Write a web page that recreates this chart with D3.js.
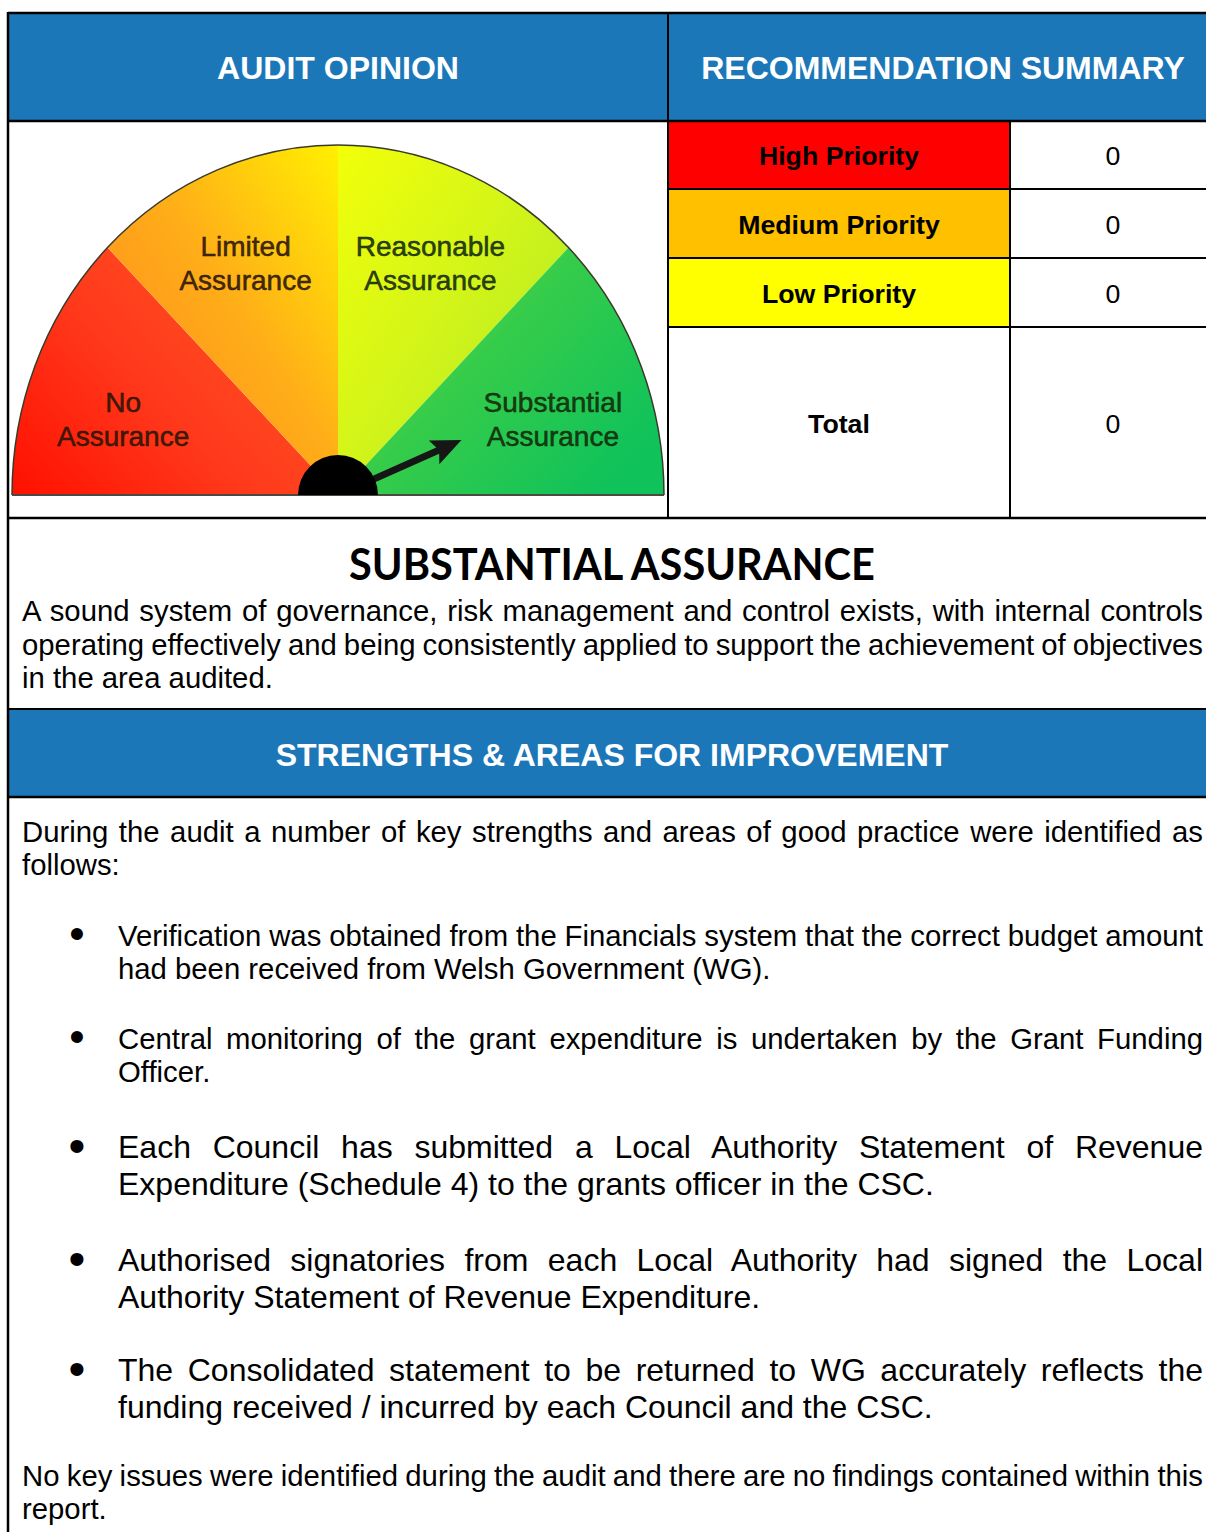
<!DOCTYPE html>
<html lang="en">
<head>
<meta charset="UTF-8">
<title>Audit Opinion</title>
<style>
  body { margin: 0; background: #fff; }
  svg { display: block; }
</style>
</head>
<body>
<script src="https://d3js.org/d3.v7.min.js"></script>
<script>
// ---- data ----
const headerTitles = ["AUDIT OPINION", "RECOMMENDATION SUMMARY"];
const priorityLabels = ["High Priority", "Medium Priority", "Low Priority", "Total"];
const priorityCounts = [0, 0, 0, 0];
const assuranceLevels = ["No Assurance", "Limited Assurance", "Reasonable Assurance", "Substantial Assurance"];
const auditOpinion = "Substantial Assurance";
const opinionLines = [
  "A sound system of governance, risk management and control exists, with internal controls",
  "operating effectively and being consistently applied to support the achievement of objectives",
  "in the area audited."
];
const sectionTitle = "STRENGTHS & AREAS FOR IMPROVEMENT";
const introLines = [
  "During the audit a number of key strengths and areas of good practice were identified as",
  "follows:"
];
const bulletItems = [
  ["Verification was obtained from the Financials system that the correct budget amount",
   "had been received from Welsh Government (WG)."],
  ["Central monitoring of the grant expenditure is undertaken by the Grant Funding",
   "Officer."],
  ["Each Council has submitted a Local Authority Statement of Revenue",
   "Expenditure (Schedule 4) to the grants officer in the CSC."],
  ["Authorised signatories from each Local Authority had signed the Local",
   "Authority Statement of Revenue Expenditure."],
  ["The Consolidated statement to be returned to WG accurately reflects the",
   "funding received / incurred by each Council and the CSC."]
];
const closingLines = [
  "No key issues were identified during the audit and there are no findings contained within this",
  "report."
];

// ---- layout & style ----
const W = 1206, H = 1532;
const sans = "Arial, 'Liberation Sans', sans-serif";
const blue = "#1c77b9";
const priorityFills = ["#ff0000", "#ffc000", "#ffff00", "#ffffff"];
const rowEdges = [121, 189, 258, 327, 518];
const lay = {
  left: 8, top: 13, colX: 668, valX: 1010, right: 1206,
  headBottom: 121, tableBottom: 518, band2Top: 709, band2Bottom: 797,
  textLeft: 22, textRight: 1203, bulletX: 77, bulletText: 118
};
const bodySize = 29.3, bigSize = 32;
const bulletSizes = [bodySize, bodySize, bigSize, bigSize, bigSize];
const bulletStarts = [945.5, 1048.5, 1157.5, 1270.5, 1380.5];

const svg = d3.select("body").append("svg")
    .attr("width", W)
    .attr("height", H)
    .style("font-family", sans);

const defs = svg.append("defs");

// blue header bands
svg.append("rect").attr("x", lay.left).attr("y", lay.top)
    .attr("width", W - lay.left).attr("height", lay.headBottom - lay.top).attr("fill", blue);
svg.append("rect").attr("x", lay.left).attr("y", lay.band2Top)
    .attr("width", W - lay.left).attr("height", lay.band2Bottom - lay.band2Top).attr("fill", blue);

svg.selectAll(".head")
    .data(headerTitles)
    .enter().append("text")
    .attr("class", "head")
    .attr("x", (d, i) => i === 0 ? (lay.left + lay.colX) / 2 : 943)
    .attr("y", 79)
    .attr("text-anchor", "middle")
    .attr("font-size", 32).attr("font-weight", "bold").attr("fill", "#fff")
    .text(d => d);

// ---- recommendation table ----
const rows = svg.selectAll(".row")
    .data(priorityLabels)
    .enter().append("g")
    .attr("class", "row");

rows.append("rect")
    .attr("x", lay.colX)
    .attr("y", (d, i) => rowEdges[i])
    .attr("width", lay.valX - lay.colX)
    .attr("height", (d, i) => rowEdges[i + 1] - rowEdges[i])
    .attr("fill", (d, i) => priorityFills[i]);

rows.append("text")
    .attr("x", (lay.colX + lay.valX) / 2)
    .attr("y", (d, i) => (rowEdges[i] + rowEdges[i + 1]) / 2 + 10)
    .attr("text-anchor", "middle")
    .attr("font-size", 26.7).attr("font-weight", "bold").attr("fill", "#000")
    .text(d => d);

rows.append("text")
    .attr("x", 1113)
    .attr("y", (d, i) => (rowEdges[i] + rowEdges[i + 1]) / 2 + 10)
    .attr("text-anchor", "middle")
    .attr("font-size", 26.7).attr("fill", "#000")
    .text((d, i) => priorityCounts[i]);

// ---- gauge ----
const cx = 338, cy = 495, rx = 326, ry = 350;
const angle = d3.scaleBand().domain(assuranceLevels).range([-90, 90]);
const labelAngle = d3.scaleBand().domain(assuranceLevels).range([-97, 97]);
const rad = d => d * Math.PI / 180;

const gradSpecs = [
  { x1: 0, y1: 1, x2: 1, y2: 0.3, stops: ["#ff1000", "#ff3a1c", "#ff5424"] },
  { x1: 0.1, y1: 0.9, x2: 1, y2: 0, stops: ["#ff8a20", "#ffae18", "#fff000"] },
  { x1: 0, y1: 0, x2: 1, y2: 1, stops: ["#f2ff08", "#d0f41a", "#a8e42a"] },
  { x1: 0, y1: 0, x2: 1, y2: 0.7, stops: ["#66da44", "#36cc4a", "#10c25a"] }
];
gradSpecs.forEach((g, i) => {
  const lg = defs.append("linearGradient").attr("id", "band" + i)
      .attr("x1", g.x1).attr("y1", g.y1).attr("x2", g.x2).attr("y2", g.y2);
  g.stops.forEach((c, j) => lg.append("stop")
      .attr("offset", j / (g.stops.length - 1)).attr("stop-color", c));
});

const arc = d3.arc().innerRadius(0).outerRadius(1);
const gauge = svg.append("g").attr("transform", `translate(${cx},${cy}) scale(${rx},${ry})`);

gauge.selectAll(".sector")
    .data(assuranceLevels)
    .enter().append("path")
    .attr("class", "sector")
    .attr("d", d => arc({ startAngle: rad(angle(d)), endAngle: rad(angle(d) + angle.bandwidth()) }))
    .attr("fill", (d, i) => `url(#band${i})`);

gauge.append("path")
    .attr("d", d3.arc().innerRadius(1).outerRadius(1)({ startAngle: rad(-90), endAngle: rad(90) }))
    .attr("fill", "none").attr("stroke", "#3a3a2a").attr("stroke-width", 1.5)
    .attr("vector-effect", "non-scaling-stroke");

svg.append("line")
    .attr("x1", cx - rx).attr("x2", cx + rx).attr("y1", cy).attr("y2", cy)
    .attr("stroke", "#4a4a40").attr("stroke-width", 2);

// labels sit on an inner ellipse at the middle of each band
const lrx = 225, lry = 255;
const labels = svg.selectAll(".glabel")
    .data(assuranceLevels)
    .enter().append("text")
    .attr("class", "glabel")
    .attr("text-anchor", "middle")
    .attr("font-size", 28)
    .attr("fill", (d, i) => i < 2 ? "#2a1606" : "#142a0a")
    .attr("stroke", (d, i) => i < 2 ? "#2a1606" : "#142a0a")
    .attr("stroke-width", 0.5)
    .attr("fill-opacity", 0.9);

labels.each(function(d) {
  const a = rad(labelAngle(d) + labelAngle.bandwidth() / 2);
  const x = cx + lrx * Math.sin(a);
  const y = cy - lry * Math.cos(a);
  const words = [d.slice(0, d.lastIndexOf(" ")), d.slice(d.lastIndexOf(" ") + 1)];
  d3.select(this).selectAll("tspan")
      .data(words)
      .enter().append("tspan")
      .attr("x", x)
      .attr("y", (w, j) => y - 17 + j * 34 + 10)
      .text(w => w);
});

// needle
const needleA = rad(angle(auditOpinion) + angle.bandwidth() / 2);
const tip = [cx + rx * 0.41 * Math.sin(needleA), cy - ry * 0.41 * Math.cos(needleA)];
const len = Math.hypot(tip[0] - cx, tip[1] - cy);
const rot = Math.atan2(tip[1] - cy, tip[0] - cx) * 180 / Math.PI;
const needle = svg.append("g").attr("transform", `translate(${cx},${cy}) rotate(${rot})`);
needle.append("path")
    .attr("d", `M20,-3.5 L${len - 26},-3.5 L${len - 30},-13 L${len},0 L${len - 30},13 L${len - 26},3.5 L20,3.5 Z`)
    .attr("fill", "#161616");

svg.append("path")
    .attr("transform", `translate(${cx},${cy})`)
    .attr("d", d3.arc().innerRadius(0).outerRadius(40)({ startAngle: rad(-90), endAngle: rad(90) }))
    .attr("fill", "#000");

// ---- opinion text ----
function justify(sel, right) {
  sel.each(function(d) {
    if (d.last) return;
    const x0 = +this.getAttribute("x");
    const natural = this.getComputedTextLength();
    const spaces = (d.text.match(/ /g) || []).length;
    if (spaces) d3.select(this).attr("word-spacing", (right - x0 - natural) / spaces);
  });
}

function paragraph(lines, x, y0, step, size) {
  const data = lines.map((t, i) => ({ text: t, last: i === lines.length - 1 }));
  const sel = svg.append("g").selectAll("text")
      .data(data)
      .enter().append("text")
      .attr("x", x)
      .attr("y", (d, i) => y0 + i * step)
      .attr("font-size", size)
      .attr("fill", "#000")
      .text(d => d.text);
  justify(sel, lay.textRight);
}

svg.append("text")
    .attr("x", 612).attr("y", 580)
    .attr("text-anchor", "middle")
    .style("font-family", "Lato, 'Open Sans', sans-serif")
    .attr("font-weight", 700).attr("font-size", 43)
    .attr("textLength", 526).attr("lengthAdjust", "spacingAndGlyphs")
    .text(auditOpinion.toUpperCase());

paragraph(opinionLines, lay.textLeft, 621, 33.5, bodySize);

svg.append("text")
    .attr("x", 612).attr("y", 766)
    .attr("text-anchor", "middle")
    .attr("font-size", 32).attr("font-weight", "bold").attr("fill", "#fff")
    .text(sectionTitle);

paragraph(introLines, lay.textLeft, 842, 33, bodySize);

bulletItems.forEach((item, i) => {
  const s = bulletSizes[i];
  svg.append("text")
      .attr("x", lay.bulletX).attr("y", bulletStarts[i] + 0.13 * s)
      .attr("text-anchor", "middle")
      .attr("font-size", 1.5 * s)
      .text("\u2022");
  paragraph(item, lay.bulletText, bulletStarts[i], s === bigSize ? 37 : 33, s);
});

paragraph(closingLines, lay.textLeft, 1485.5, 33, bodySize);

// ---- rules ----
const rules = [
  [lay.left, lay.top, W, lay.top, 2.5],
  [lay.left, lay.top - 1, lay.left, H, 2.5],
  [lay.left, lay.headBottom, W, lay.headBottom, 2.5],
  [lay.colX, lay.top, lay.colX, lay.tableBottom, 2],
  [lay.valX, lay.headBottom, lay.valX, lay.tableBottom, 2],
  [lay.colX, rowEdges[1], W, rowEdges[1], 2],
  [lay.colX, rowEdges[2], W, rowEdges[2], 2],
  [lay.colX, rowEdges[3], W, rowEdges[3], 2],
  [lay.left, lay.tableBottom, W, lay.tableBottom, 2.5],
  [lay.left, lay.band2Top, W, lay.band2Top, 2],
  [lay.left, lay.band2Bottom, W, lay.band2Bottom, 2.5]
];
svg.selectAll(".rule")
    .data(rules)
    .enter().append("line")
    .attr("class", "rule")
    .attr("x1", d => d[0]).attr("y1", d => d[1])
    .attr("x2", d => d[2]).attr("y2", d => d[3])
    .attr("stroke", "#000").attr("stroke-width", d => d[4]);
</script>
</body>
</html>
